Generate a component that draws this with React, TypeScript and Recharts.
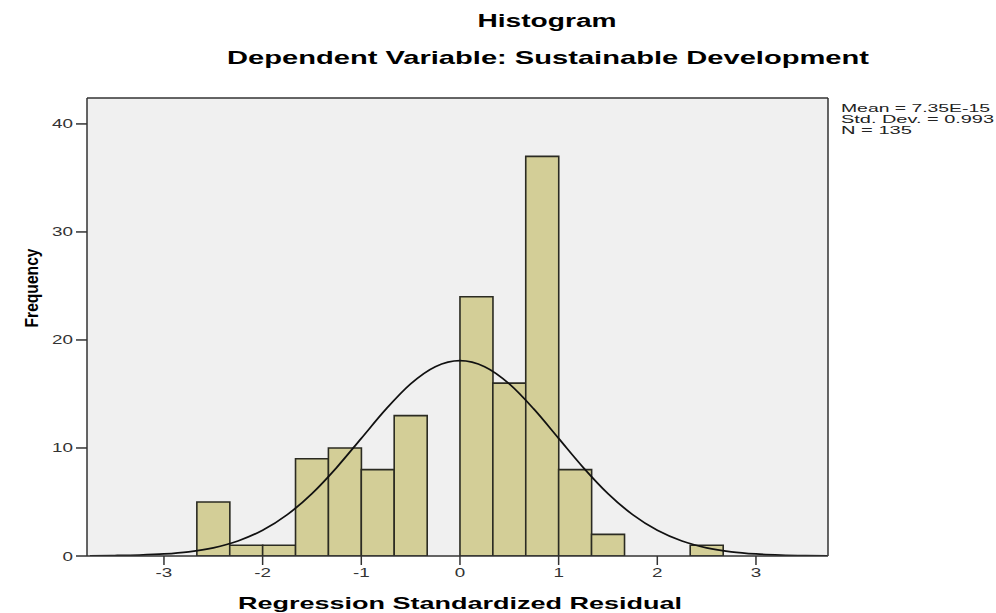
import React from "react";
import {
  ComposedChart,
  Bar,
  Line,
  XAxis,
  YAxis,
  CartesianGrid,
} from "recharts";

// histogram bins (centres of 1/3-wide bins) and frequencies
const binCenters = [
  -2.5, -2.1667, -1.8333, -1.5, -1.1667, -0.8333, -0.5, -0.1667,
  0.1667, 0.5, 0.8333, 1.1667, 1.5, 1.8333, 2.1667, 2.5,
];
const frequencies = [5, 1, 1, 9, 10, 8, 13, 0, 24, 16, 37, 8, 2, 0, 0, 1];

// fitted normal curve
const curveX = [
  -3.75, -3.5, -3.25, -3, -2.75, -2.5, -2.25, -2, -1.75, -1.5, -1.25, -1,
  -0.75, -0.5, -0.25, 0, 0.25, 0.5, 0.75, 1, 1.25, 1.5, 1.75, 2, 2.25,
  2.5, 2.75, 3, 3.25, 3.5, 3.72,
];
const curveY = [
  0.01, 0.04, 0.09, 0.19, 0.39, 0.76, 1.39, 2.38, 3.83, 5.78, 8.19, 10.89,
  13.59, 15.93, 17.52, 18.08, 17.52, 15.93, 13.59, 10.89, 8.19, 5.78, 3.83,
  2.38, 1.39, 0.76, 0.39, 0.19, 0.09, 0.04, 0.02,
];

const xTicks = [-3, -2, -1, 0, 1, 2, 3];
const yTicks = [0, 10, 20, 30, 40];
const statLines = ["Mean = 7.35E-15", "Std. Dev. = 0.993", "N = 135"];
const statWidths = [149, 153, 71];

const X_DOMAIN: [number, number] = [-3.78, 3.73];
const Y_DOMAIN: [number, number] = [0, 42.4];

const FONT = "'Liberation Sans', Arial, sans-serif";
const AXIS_COLOR = "#333";

const histogramData = binCenters.map((x, i) => ({ x, count: frequencies[i] }));
const curveData = curveX.map((x, i) => ({ x, fit: curveY[i] }));

function XTick(props: any) {
  const { x, y, payload } = props;
  return (
    <g transform={`translate(${x},${y}) scale(1.45,1)`}>
      <text x={0} y={10} textAnchor="middle" fontSize={13} fill="#333" fontFamily={FONT}>
        {payload.value}
      </text>
    </g>
  );
}

function YTick(props: any) {
  const { x, y, payload } = props;
  return (
    <g transform={`translate(${x},${y}) scale(1.45,1)`}>
      <text x={0} y={4.5} textAnchor="end" fontSize={13} fill="#333" fontFamily={FONT}>
        {payload.value}
      </text>
    </g>
  );
}

export default function App() {
  return (
    <div style={{ position: "absolute", left: 0, top: 0, width: 996, height: 613, background: "#fff" }}>
      <ComposedChart
        width={996}
        height={613}
        data={histogramData}
        barCategoryGap={0}
        barGap={0}
        margin={{ top: 97, right: 167, bottom: 27, left: 27 }}
      >
        <CartesianGrid fill="#f0f0f0" horizontal={false} vertical={false} />

        <XAxis
          dataKey="x"
          type="number"
          domain={X_DOMAIN}
          allowDataOverflow
          ticks={xTicks}
          interval={0}
          height={30}
          tickSize={9}
          tickMargin={2}
          tick={<XTick />}
          tickLine={{ stroke: AXIS_COLOR, strokeWidth: 1.5 }}
          axisLine={{ stroke: AXIS_COLOR, strokeWidth: 1.5 }}
        />
        <XAxis
          xAxisId="top"
          orientation="top"
          type="number"
          dataKey="x"
          domain={X_DOMAIN}
          allowDataOverflow
          height={1}
          ticks={xTicks}
          tick={false}
          tickLine={false}
          axisLine={{ stroke: AXIS_COLOR, strokeWidth: 1.5 }}
        />

        <YAxis
          type="number"
          domain={Y_DOMAIN}
          allowDataOverflow
          ticks={yTicks}
          interval={0}
          width={60}
          tickSize={11}
          tickMargin={3}
          tick={<YTick />}
          tickLine={{ stroke: AXIS_COLOR, strokeWidth: 1.5 }}
          axisLine={{ stroke: AXIS_COLOR, strokeWidth: 1.5 }}
        />
        <YAxis
          yAxisId="right"
          orientation="right"
          type="number"
          domain={Y_DOMAIN}
          allowDataOverflow
          width={1}
          ticks={yTicks}
          tick={false}
          tickLine={false}
          axisLine={{ stroke: AXIS_COLOR, strokeWidth: 1.5 }}
        />

        <Bar
          dataKey="count"
          fill="#d3ce97"
          stroke="#2b2b22"
          strokeWidth={1.6}
          isAnimationActive={false}
        />

        <Line
          data={curveData}
          xAxisId="top"
          dataKey="fit"
          type="monotone"
          stroke="#111"
          strokeWidth={1.8}
          dot={false}
          activeDot={false}
          isAnimationActive={false}
        />
      </ComposedChart>

      <svg
        width={996}
        height={613}
        style={{ position: "absolute", left: 0, top: 0, pointerEvents: "none" }}
      >
        <text x={547} y={27} textAnchor="middle" fontSize={18} fontWeight="bold" fontFamily={FONT}
          textLength={139} lengthAdjust="spacingAndGlyphs">
          Histogram
        </text>
        <text x={548} y={64} textAnchor="middle" fontSize={19} fontWeight="bold" fontFamily={FONT}
          textLength={642} lengthAdjust="spacingAndGlyphs">
          Dependent Variable: Sustainable Development
        </text>
        <text x={460} y={609} textAnchor="middle" fontSize={17} fontWeight="bold" fontFamily={FONT}
          textLength={444} lengthAdjust="spacingAndGlyphs">
          Regression Standardized Residual
        </text>
        <g transform="translate(38,288) rotate(-90) scale(1,1.5)">
          <text x={0} y={0} textAnchor="middle" fontSize={12} fontWeight="bold" fontFamily={FONT}
            textLength={79} lengthAdjust="spacingAndGlyphs">
            Frequency
          </text>
        </g>
        {statLines.map((line, i) => (
          <text key={line} x={841} y={112 + i * 11} fontSize={10} fill="#222" fontFamily={FONT}
            textLength={statWidths[i]} lengthAdjust="spacingAndGlyphs">
            {line}
          </text>
        ))}
      </svg>
    </div>
  );
}
